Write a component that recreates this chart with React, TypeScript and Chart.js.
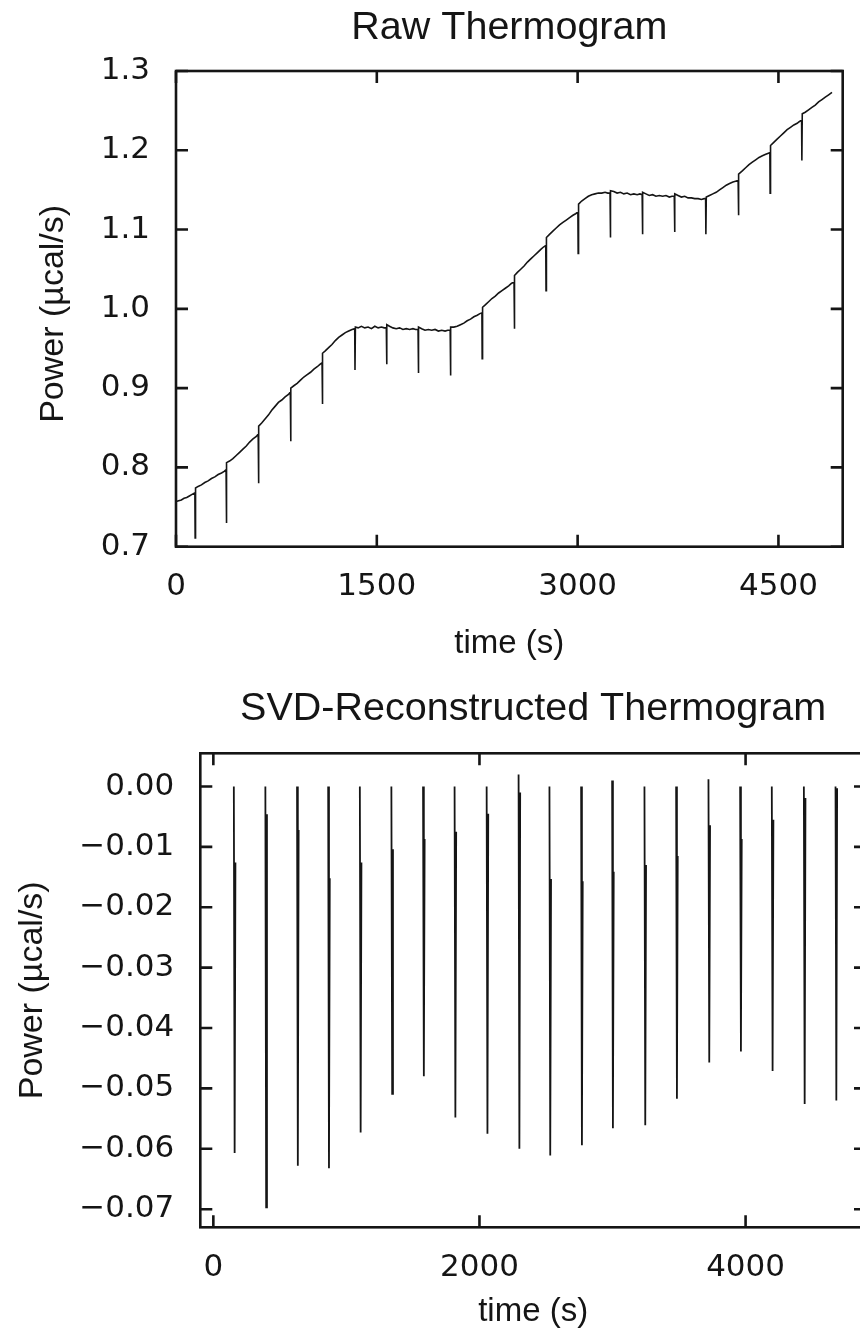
import React, { useEffect, useRef } from "react";
import { Chart, registerables } from "chart.js";

Chart.register(...registerables);

// ---------- text ----------
const rawTitle = "Raw Thermogram";
const svdTitle = "SVD-Reconstructed Thermogram";
const xAxisTitle = "time (s)";
const yAxisTitle = "Power (µcal/s)";

// ---------- tick labels ----------
const rawXTicks = [0, 1500, 3000, 4500];
const rawYTicks = [0.7, 0.8, 0.9, 1.0, 1.1, 1.2, 1.3];
const svdXTicks = [0, 2000, 4000];
const svdYTicks = [0, -0.01, -0.02, -0.03, -0.04, -0.05, -0.06, -0.07];

// ---------- raw thermogram trace: [time (s), power (µcal/s)] ----------
const rawTrace: [number, number][] = [
  [0, 0.757], [20, 0.758], [40, 0.759], [60, 0.761], [80, 0.762], [100, 0.764], [120, 0.766], [141, 0.768], [143, 0.711], [146, 0.774],
  [165, 0.776], [190, 0.778], [215, 0.781], [240, 0.783], [265, 0.786], [290, 0.788], [315, 0.791], [340, 0.793], [360, 0.795], [374, 0.797], [376, 0.730], [379, 0.806],
  [400, 0.808], [425, 0.811], [450, 0.815], [475, 0.819], [500, 0.823], [525, 0.827], [550, 0.832], [575, 0.836], [600, 0.839], [614, 0.842], [616, 0.780], [619, 0.852],
  [640, 0.856], [665, 0.861], [690, 0.866], [715, 0.872], [740, 0.877], [765, 0.882], [790, 0.885], [815, 0.889], [840, 0.892], [854, 0.895], [856, 0.833], [859, 0.900],
  [880, 0.903], [905, 0.906], [930, 0.910], [955, 0.914], [980, 0.917], [1005, 0.920], [1030, 0.924], [1055, 0.927], [1075, 0.930], [1091, 0.932], [1093, 0.880], [1096, 0.944],
  [1115, 0.947], [1140, 0.951], [1165, 0.955], [1190, 0.960], [1215, 0.964], [1240, 0.967], [1265, 0.970], [1290, 0.972], [1315, 0.974], [1335, 0.975], [1337, 0.923], [1340, 0.977],
  [1360, 0.976], [1385, 0.978], [1410, 0.976], [1435, 0.977], [1460, 0.975], [1485, 0.978], [1510, 0.976], [1535, 0.977], [1555, 0.976], [1571, 0.976], [1573, 0.930], [1576, 0.980],
  [1595, 0.978], [1620, 0.976], [1645, 0.975], [1670, 0.976], [1695, 0.974], [1720, 0.975], [1745, 0.974], [1770, 0.975], [1790, 0.974], [1808, 0.974], [1810, 0.919], [1813, 0.977],
  [1835, 0.975], [1860, 0.973], [1885, 0.974], [1910, 0.973], [1935, 0.974], [1960, 0.972], [1985, 0.973], [2010, 0.972], [2030, 0.973], [2048, 0.973], [2050, 0.916], [2053, 0.977],
  [2075, 0.977], [2100, 0.978], [2125, 0.980], [2150, 0.982], [2175, 0.985], [2200, 0.987], [2225, 0.990], [2250, 0.992], [2270, 0.994], [2285, 0.995], [2287, 0.937], [2290, 1.002],
  [2310, 1.005], [2335, 1.009], [2360, 1.013], [2385, 1.016], [2410, 1.020], [2435, 1.023], [2460, 1.026], [2485, 1.029], [2505, 1.032], [2525, 1.034], [2527, 0.975], [2530, 1.042],
  [2550, 1.046], [2575, 1.050], [2600, 1.054], [2625, 1.059], [2650, 1.063], [2675, 1.067], [2700, 1.071], [2725, 1.075], [2745, 1.078], [2762, 1.080], [2764, 1.023], [2767, 1.090],
  [2790, 1.094], [2815, 1.098], [2840, 1.102], [2865, 1.106], [2890, 1.109], [2915, 1.112], [2940, 1.115], [2965, 1.118], [2985, 1.120], [3002, 1.122], [3004, 1.070], [3007, 1.132],
  [3030, 1.136], [3055, 1.139], [3080, 1.142], [3105, 1.144], [3130, 1.145], [3155, 1.146], [3180, 1.146], [3205, 1.147], [3225, 1.146], [3242, 1.146], [3244, 1.090], [3247, 1.149],
  [3270, 1.148], [3295, 1.146], [3320, 1.147], [3345, 1.145], [3370, 1.146], [3395, 1.144], [3420, 1.145], [3445, 1.144], [3465, 1.145], [3482, 1.144], [3484, 1.094], [3487, 1.147],
  [3510, 1.145], [3535, 1.143], [3560, 1.144], [3585, 1.142], [3610, 1.143], [3635, 1.142], [3660, 1.143], [3685, 1.141], [3705, 1.142], [3722, 1.142], [3724, 1.097], [3727, 1.145],
  [3750, 1.143], [3775, 1.141], [3800, 1.142], [3825, 1.140], [3850, 1.140], [3875, 1.139], [3900, 1.139], [3925, 1.138], [3945, 1.139], [3956, 1.139], [3958, 1.094], [3961, 1.141],
  [3985, 1.143], [4010, 1.145], [4035, 1.147], [4060, 1.150], [4085, 1.153], [4110, 1.156], [4135, 1.158], [4160, 1.160], [4180, 1.161], [4199, 1.162], [4201, 1.118], [4204, 1.170],
  [4230, 1.174], [4255, 1.178], [4280, 1.182], [4305, 1.185], [4330, 1.188], [4355, 1.191], [4380, 1.193], [4405, 1.195], [4420, 1.196], [4436, 1.197], [4438, 1.146], [4441, 1.206],
  [4465, 1.210], [4490, 1.214], [4515, 1.218], [4540, 1.222], [4565, 1.226], [4590, 1.229], [4615, 1.232], [4640, 1.234], [4655, 1.236], [4673, 1.238], [4675, 1.187], [4678, 1.246],
  [4700, 1.248], [4725, 1.251], [4750, 1.254], [4775, 1.257], [4800, 1.261], [4825, 1.264], [4850, 1.267], [4875, 1.270], [4900, 1.273],
];

// ---------- SVD-reconstructed spikes ----------
const svdInjTimes = [160, 397, 635, 869, 1107, 1344, 1582, 1819, 2060, 2300, 2532, 2770, 3003, 3246, 3484, 3727, 3965, 4203, 4444, 4682];
const svdSpikeTop = [0, 0, 0, 0, 0, 0, 0, 0, 0, 0.002, 0, 0, 0.001, 0, 0, 0.0012, 0, 0, 0, 0];
const svdSpikeMin = [-0.0607, -0.0697, -0.0628, -0.0632, -0.0573, -0.0509, -0.0480, -0.0548, -0.0575, -0.0600, -0.0611, -0.0594, -0.0566, -0.0561, -0.0517, -0.0457, -0.0439, -0.0471, -0.0526, -0.0520];
const svdSpikeKnee = [-0.0126, -0.0046, -0.0072, -0.0152, -0.0126, -0.0104, -0.0087, -0.0075, -0.0045, -0.0010, -0.0153, -0.0157, -0.0141, -0.0130, -0.0115, -0.0064, -0.0087, -0.0055, -0.0019, -0.0003];

const INK = "#151515";
const TICK_FONT = { family: "'DejaVu Sans', sans-serif", size: 31 };

type Deco = {
  title: string;
  titleY: number;
  xTitleY: number;
  yTitleX: number;
  yTitleDy: number;
};

const framePlugin = {
  id: "frameDeco",
  afterDraw(chart: any, _args: any, opts: Deco) {
    const { ctx, chartArea: a, scales } = chart;
    const xs = scales.x;
    const ys = scales.y;
    ctx.save();
    ctx.strokeStyle = INK;
    ctx.lineWidth = 2.6;
    ctx.strokeRect(a.left, a.top, a.right - a.left, a.bottom - a.top);
    const L = 12;
    ctx.beginPath();
    xs.ticks.forEach((t: any) => {
      const px = xs.getPixelForValue(t.value);
      ctx.moveTo(px, a.bottom);
      ctx.lineTo(px, a.bottom - L);
      ctx.moveTo(px, a.top);
      ctx.lineTo(px, a.top + L);
    });
    ys.ticks.forEach((t: any) => {
      const py = ys.getPixelForValue(t.value);
      ctx.moveTo(a.left, py);
      ctx.lineTo(a.left + L, py);
      ctx.moveTo(a.right, py);
      ctx.lineTo(a.right - L, py);
    });
    ctx.stroke();

    ctx.fillStyle = INK;
    ctx.textAlign = "center";
    const cx = (a.left + a.right) / 2;
    ctx.font = "39.5px 'Liberation Sans', Arial, sans-serif";
    ctx.textBaseline = "alphabetic";
    ctx.fillText(opts.title, cx, opts.titleY);
    ctx.font = "33px 'Liberation Sans', Arial, sans-serif";
    ctx.textBaseline = "middle";
    ctx.fillText(xAxisTitle, cx, opts.xTitleY);
    ctx.font = "34px 'Liberation Sans', Arial, sans-serif";
    ctx.translate(opts.yTitleX, (a.top + a.bottom) / 2 + opts.yTitleDy);
    ctx.rotate(-Math.PI / 2);
    ctx.fillText(yAxisTitle, 0, 0);
    ctx.restore();
  },
};

function fmtSvd(v: number): string {
  const s = Math.abs(v).toFixed(2);
  return v < -1e-9 ? "\u2212" + s : s;
}

function makeConfig(p: {
  data: any[];
  xMin: number;
  xMax: number;
  yMin: number;
  yMax: number;
  xTicks: number[];
  yTicks: number[];
  yFmt: (v: number) => string;
  yAxisW: number;
  padding: { top: number; right: number; bottom: number; left: number };
  lineWidth: number;
  deco: Deco;
}): any {
  return {
    type: "line",
    data: {
      datasets: [
        {
          data: p.data,
          borderColor: INK,
          borderWidth: p.lineWidth,
          pointRadius: 0,
          tension: 0,
          spanGaps: false,
          fill: false,
        },
      ],
    },
    options: {
      responsive: false,
      animation: false,
      devicePixelRatio: 1,
      events: [],
      layout: { padding: p.padding },
      plugins: {
        legend: { display: false },
        title: { display: false },
        tooltip: { enabled: false },
        frameDeco: p.deco,
      },
      scales: {
        x: {
          type: "linear",
          min: p.xMin,
          max: p.xMax,
          grid: { display: false, drawTicks: false },
          border: { display: false },
          ticks: {
            font: TICK_FONT,
            color: INK,
            padding: 22,
            maxRotation: 0,
            autoSkip: false,
            callback: (v: number) => String(v),
          },
          afterBuildTicks: (s: any) => {
            s.ticks = p.xTicks.map((v) => ({ value: v }));
          },
          afterFit: (s: any) => {
            s.height = 60;
          },
        },
        y: {
          type: "linear",
          min: p.yMin,
          max: p.yMax,
          grid: { display: false, drawTicks: false },
          border: { display: false },
          ticks: {
            font: TICK_FONT,
            color: INK,
            padding: 26,
            autoSkip: false,
            callback: (v: number) => p.yFmt(v),
          },
          afterBuildTicks: (s: any) => {
            s.ticks = p.yTicks.map((v) => ({ value: v }));
          },
          afterFit: (s: any) => {
            s.width = p.yAxisW;
          },
        },
      },
    },
    plugins: [framePlugin],
  };
}

export default function App() {
  const topRef = useRef<HTMLCanvasElement | null>(null);
  const botRef = useRef<HTMLCanvasElement | null>(null);

  useEffect(() => {
    const rawData = rawTrace.map(([x, y]) => ({ x, y }));
    const svdData: any[] = [];
    svdInjTimes.forEach((t, i) => {
      svdData.push({ x: t - 6, y: svdSpikeTop[i] });
      svdData.push({ x: t, y: svdSpikeMin[i] });
      svdData.push({ x: t + 6, y: svdSpikeKnee[i] });
      svdData.push({ x: t + 7, y: null });
    });

    const top = new Chart(
      topRef.current as HTMLCanvasElement,
      makeConfig({
        data: rawData,
        xMin: 0,
        xMax: 4980,
        yMin: 0.7,
        yMax: 1.3,
        xTicks: rawXTicks,
        yTicks: rawYTicks,
        yFmt: (v) => v.toFixed(1),
        yAxisW: 176,
        padding: { top: 71, right: 17.3, bottom: 73.3, left: 0 },
        lineWidth: 1.6,
        deco: { title: rawTitle, titleY: 39, xTitleY: 644, yTitleX: 54, yTitleDy: 5 },
      })
    );
    const bot = new Chart(
      botRef.current as HTMLCanvasElement,
      makeConfig({
        data: svdData,
        xMin: -98,
        xMax: 4905,
        yMin: -0.073,
        yMax: 0.0055,
        xTicks: svdXTicks,
        yTicks: svdYTicks,
        yFmt: fmtSvd,
        yAxisW: 200.3,
        padding: { top: 93.3, right: 14, bottom: 54.7, left: 0 },
        lineWidth: 1.8,
        deco: { title: svdTitle, titleY: 60, xTitleY: 652, yTitleX: 33, yTitleDy: 0 },
      })
    );
    return () => {
      top.destroy();
      bot.destroy();
    };
  }, []);

  return (
    <div
      style={{
        position: "absolute",
        left: 0,
        top: 0,
        width: 860,
        height: 1342,
        overflow: "hidden",
        background: "#fff",
      }}
    >
      <canvas
        ref={topRef}
        width={860}
        height={680}
        style={{ position: "absolute", left: 0, top: 0, width: 860, height: 680 }}
      />
      <canvas
        ref={botRef}
        width={880}
        height={682}
        style={{ position: "absolute", left: 0, top: 660, width: 880, height: 682 }}
      />
    </div>
  );
}
